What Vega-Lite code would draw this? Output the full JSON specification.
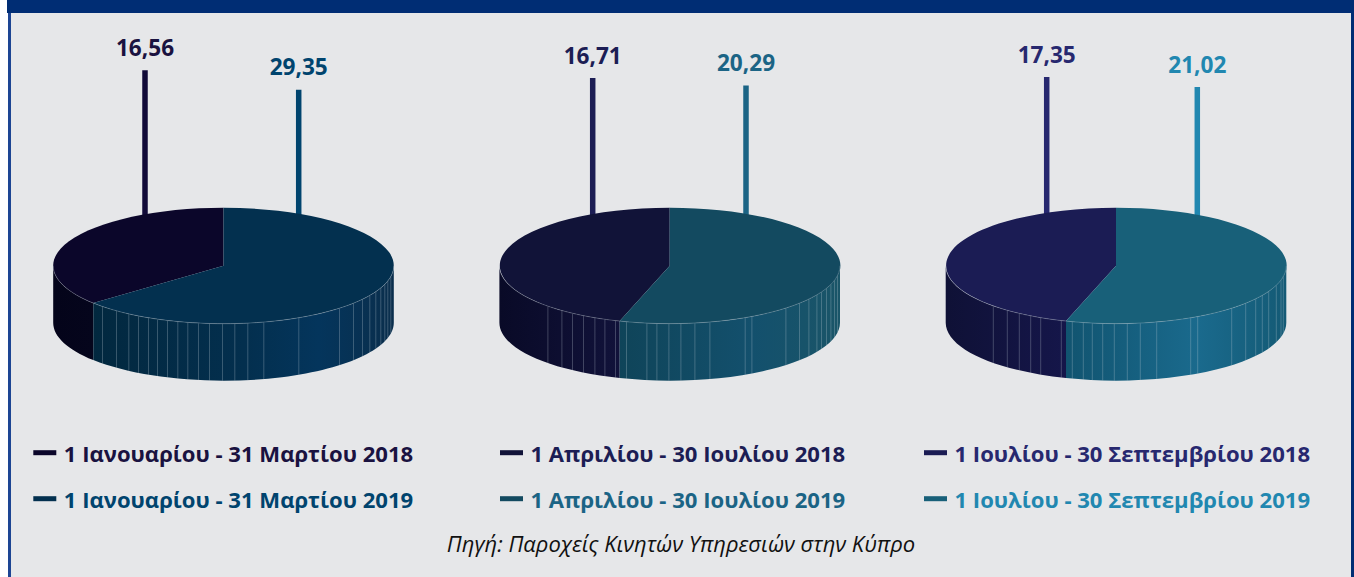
{
"$schema":"https://vega.github.io/schema/vega-lite/v6.json",
"width":1340,"height":564,
"autosize":{"type":"none"},
"padding":{"left":11,"top":13,"right":3,"bottom":0},
"background":"#ffffff",
"view":{"fill":"#E6E7E9","stroke":null},
"config":{"font":"Open Sans"},
"datasets":{"rows":[
{"period":"1 Ιανουαρίου - 31 Μαρτίου 2018","panel":1,"year":2018,"value":16.56,"valueText":"16,56"},
{"period":"1 Ιανουαρίου - 31 Μαρτίου 2019","panel":1,"year":2019,"value":29.35,"valueText":"29,35"},
{"period":"1 Απριλίου - 30 Ιουλίου 2018","panel":2,"year":2018,"value":16.71,"valueText":"16,71"},
{"period":"1 Απριλίου - 30 Ιουλίου 2019","panel":2,"year":2019,"value":20.29,"valueText":"20,29"},
{"period":"1  Ιουλίου - 30 Σεπτεμβρίου 2018","panel":3,"year":2018,"value":17.35,"valueText":"17,35"},
{"period":"1  Ιουλίου - 30 Σεπτεμβρίου 2019","panel":3,"year":2019,"value":21.02,"valueText":"21,02"}
]},
"data":{"name":"rows"},
"resolve":{"scale":{"x":"independent","y":"independent","color":"independent","shape":"independent"}},
"layer":[
{"mark":{"type":"rule","color":"#1D4593","strokeWidth":3},"encoding":{"x":{"value":-1.5}}},
{"mark":{"type":"rule","color":"#002D74","strokeWidth":3},"encoding":{"x":{"value":1341.5}}},
{"mark":{"type":"rule","color":"#002D74","strokeWidth":13},"encoding":{"y":{"value":-6.5},"x":{"value":-4},"x2":{"value":1343}}},
{"mark":{"type":"rule","strokeWidth":5.5},
 "encoding":{
 "x":{"field":"value","type":"quantitative","axis":null,"scale":{"domain":[16.56,16.71,17.35,20.29,21.02,29.35],"range":[134,581.7,1035.7,735,1186.3,287.7],"zero":false,"nice":false}},
 "y":{"field":"value","type":"quantitative","axis":null,"scale":{"domain":[16.56,16.71,17.35,20.29,21.02,29.35],"range":[57.3,65,64,72.5,74,76.7],"zero":false,"nice":false}},
 "y2":{"value":230},
 "color":{"field":"period","type":"nominal","legend":null,"scale":{"domain":["1 Ιανουαρίου - 31 Μαρτίου 2018","1 Ιανουαρίου - 31 Μαρτίου 2019","1 Απριλίου - 30 Ιουλίου 2018","1 Απριλίου - 30 Ιουλίου 2019","1  Ιουλίου - 30 Σεπτεμβρίου 2018","1  Ιουλίου - 30 Σεπτεμβρίου 2019"],"range":["#110A38","#00446E","#1C1D54","#1B6485","#27286F","#2187B0"]}}
 }},
{"transform":[{"filter":"datum.panel==1 && datum.year==2018"}],
 "mark":{"type":"point","filled":true,"opacity":1,"size":4,"yOffset":-29.3,"shape":"M-170.3,0A170.3,58 0 0 0 -130.2,37.4V94.4A170.3,58 0 0 1 -170.3,57Z","fill":{"gradient":"linear","x1":0,"y1":0,"x2":1,"y2":0,"stops":[{"offset":0,"color":"#04041A"},{"offset":1,"color":"#05051C"}]}},
 "encoding":{"x":{"field":"panel","type":"quantitative","axis":null,"scale":{"domain":[1,2,3],"range":[212.5,658.7,1105],"zero":false,"nice":false}}}},
{"transform":[{"filter":"datum.panel==1 && datum.year==2019"}],
 "mark":{"type":"point","filled":true,"opacity":1,"size":4,"yOffset":-29.3,"shape":"M-130.2,37.4A170.3,58 0 0 0 170.3,0V57A170.3,58 0 0 1 -130.2,94.4Z","fill":{"gradient":"linear","x1":0,"y1":0,"x2":1,"y2":0,"stops":[{"offset":0,"color":"#02283F"},{"offset":0.5,"color":"#032F4E"},{"offset":0.75,"color":"#04355C"},{"offset":1,"color":"#0A2E4C"}]}},
 "encoding":{"x":{"field":"panel","type":"quantitative","axis":null,"scale":{"domain":[1,2,3],"range":[212.5,658.7,1105],"zero":false,"nice":false}}}},
{"transform":[{"filter":"datum.panel==2 && datum.year==2018"}],
 "mark":{"type":"point","filled":true,"opacity":1,"size":4,"yOffset":-29.3,"shape":"M-170.3,0A170.3,58 0 0 0 -50,55.4V112.4A170.3,58 0 0 1 -170.3,57Z","fill":{"gradient":"linear","x1":0,"y1":0,"x2":1,"y2":0,"stops":[{"offset":0,"color":"#090A27"},{"offset":1,"color":"#11123A"}]}},
 "encoding":{"x":{"field":"panel","type":"quantitative","axis":null,"scale":{"domain":[1,2,3],"range":[212.5,658.7,1105],"zero":false,"nice":false}}}},
{"transform":[{"filter":"datum.panel==2 && datum.year==2019"}],
 "mark":{"type":"point","filled":true,"opacity":1,"size":4,"yOffset":-29.3,"shape":"M-50,55.4A170.3,58 0 0 0 170.3,0V57A170.3,58 0 0 1 -50,112.4Z","fill":{"gradient":"linear","x1":0,"y1":0,"x2":1,"y2":0,"stops":[{"offset":0,"color":"#0F4459"},{"offset":0.6,"color":"#13506D"},{"offset":1,"color":"#1A5568"}]}},
 "encoding":{"x":{"field":"panel","type":"quantitative","axis":null,"scale":{"domain":[1,2,3],"range":[212.5,658.7,1105],"zero":false,"nice":false}}}},
{"transform":[{"filter":"datum.panel==3 && datum.year==2018"}],
 "mark":{"type":"point","filled":true,"opacity":1,"size":4,"yOffset":-29.3,"shape":"M-170.3,0A170.3,58 0 0 0 -50,55.4V112.4A170.3,58 0 0 1 -170.3,57Z","fill":{"gradient":"linear","x1":0,"y1":0,"x2":1,"y2":0,"stops":[{"offset":0,"color":"#0F1136"},{"offset":1,"color":"#15164A"}]}},
 "encoding":{"x":{"field":"panel","type":"quantitative","axis":null,"scale":{"domain":[1,2,3],"range":[212.5,658.7,1105],"zero":false,"nice":false}}}},
{"transform":[{"filter":"datum.panel==3 && datum.year==2019"}],
 "mark":{"type":"point","filled":true,"opacity":1,"size":4,"yOffset":-29.3,"shape":"M-50,55.4A170.3,58 0 0 0 170.3,0V57A170.3,58 0 0 1 -50,112.4Z","fill":{"gradient":"linear","x1":0,"y1":0,"x2":1,"y2":0,"stops":[{"offset":0,"color":"#115470"},{"offset":0.6,"color":"#1A6A8D"},{"offset":1,"color":"#145A75"}]}},
 "encoding":{"x":{"field":"panel","type":"quantitative","axis":null,"scale":{"domain":[1,2,3],"range":[212.5,658.7,1105],"zero":false,"nice":false}}}},
{"mark":{"type":"point","filled":true,"opacity":1,"size":4,"yOffset":-29.3},
 "encoding":{
 "x":{"field":"panel","type":"quantitative","axis":null,"scale":{"domain":[1,2,3],"range":[212.5,658.7,1105],"zero":false,"nice":false}},
 "shape":{"field":"period","type":"nominal","legend":null,"scale":{"domain":["1 Ιανουαρίου - 31 Μαρτίου 2018","1 Ιανουαρίου - 31 Μαρτίου 2019","1 Απριλίου - 30 Ιουλίου 2018","1 Απριλίου - 30 Ιουλίου 2019","1  Ιουλίου - 30 Σεπτεμβρίου 2018","1  Ιουλίου - 30 Σεπτεμβρίου 2019"],
 "range":["M0,0L0,-58A170.3,58 0 0 0 -130.2,37.4Z","M0,0L0,-58A170.3,58 0 1 1 -130.2,37.4Z","M0,0L0,-58A170.3,58 0 0 0 -50,55.4Z","M0,0L0,-58A170.3,58 0 1 1 -50,55.4Z","M0,0L0,-58A170.3,58 0 0 0 -50,55.4Z","M0,0L0,-58A170.3,58 0 1 1 -50,55.4Z"]}},
 "fill":{"field":"period","type":"nominal","legend":null,"scale":{"domain":["1 Ιανουαρίου - 31 Μαρτίου 2018","1 Ιανουαρίου - 31 Μαρτίου 2019","1 Απριλίου - 30 Ιουλίου 2018","1 Απριλίου - 30 Ιουλίου 2019","1  Ιουλίου - 30 Σεπτεμβρίου 2018","1  Ιουλίου - 30 Σεπτεμβρίου 2019"],"range":["#0B062A","#03304F","#111338","#134A60","#1B1C54","#186079"]}}
 }},
{"mark":{"type":"point","filled":false,"opacity":0.3,"stroke":"#C8D4DC","strokeWidth":0.9,"size":4,"yOffset":-29.3},
 "encoding":{
 "x":{"field":"panel","type":"quantitative","axis":null,"scale":{"domain":[1,2,3],"range":[212.5,658.7,1105],"zero":false,"nice":false}},
 "shape":{"field":"period","type":"nominal","legend":null,"scale":{"domain":["1 Ιανουαρίου - 31 Μαρτίου 2018","1 Ιανουαρίου - 31 Μαρτίου 2019","1 Απριλίου - 30 Ιουλίου 2018","1 Απριλίου - 30 Ιουλίου 2019","1  Ιουλίου - 30 Σεπτεμβρίου 2018","1  Ιουλίου - 30 Σεπτεμβρίου 2019"],
 "range":[
 "M-170.3,0A170.3,58 0 0 0 -130.2,37.4",
 "M-130.2,37.4A170.3,58 0 0 0 170.3,0M-121,40.8V97.8M-107,45.1V102.1M-94.7,48.2V105.2M-85,50.3V107.3M-75,52.1V109.1M-66,53.5V110.5M-56,54.8V111.8M-45.7,55.9V112.9M-35.7,56.7V113.7M-25,57.4V114.4M-14,57.8V114.8M-1,58V115M11.3,57.9V114.9M24.3,57.4V114.4M40.3,56.4V113.4M75.3,52V109M116,42.5V99.5M130,37.5V94.5M139,33.5V90.5M146.3,29.7V86.7M152.3,25.9V82.9M157.3,22.2V79.2M161.3,18.6V75.6M164.3,15.2V72.2M167.3,10.8V67.8",
 "M-170.3,0A170.3,58 0 0 0 -50,55.4M-121.8,40.5V97.5M-107.8,44.9V101.9M-97.2,47.6V104.6M-86.2,50V107M-74.8,52.1V109.1M-64.8,53.6V110.6M-54.2,55V112",
 "M-50,55.4A170.3,58 0 0 0 170.3,0M-43.2,56.1V113.1M-22.8,57.5V114.5M-12.8,57.8V114.8M-0.8,58V115M11.2,57.9V114.9M25.2,57.4V114.4M40.2,56.4V113.4M75.5,52V109M82.2,50.8V107.8M116.2,42.4V99.4M129.8,37.5V94.5M139.2,33.4V90.4M147.2,29.2V86.2M151.8,26.3V83.3M156.8,22.6V79.6M161.2,18.7V75.7M164.8,14.6V71.6M167.8,9.9V66.9",
 "M-170.3,0A170.3,58 0 0 0 -50,55.4M-122.7,40.2V97.2M-108.7,44.7V101.7M-96.7,47.7V104.7M-85.3,50.2V107.2M-75.3,52V109M-54.7,54.9V111.9",
 "M-50,55.4A170.3,58 0 0 0 170.3,0M-43.7,56.1V113.1M-32.7,56.9V113.9M-23.7,57.4V114.4M-13.3,57.8V114.8M-1.7,58V115M11.3,57.9V114.9M24.3,57.4V114.4M40.7,56.3V113.3M74.7,52.1V109.1M81.7,50.9V107.9M115.7,42.6V99.6M129.7,37.6V94.6M139.7,33.2V90.2M146.3,29.7V86.7M152.7,25.7V82.7M160.3,19.6V76.6M165,14.4V71.4M167.3,10.8V67.8"
 ]}}
 }},
{"mark":{"type":"text","font":"Open Sans","fontWeight":"bold","fontSize":22.6,"align":"center","baseline":"alphabetic","dy":-14.5},
 "encoding":{
 "x":{"field":"value","type":"quantitative","axis":null,"scale":{"domain":[16.56,16.71,17.35,20.29,21.02,29.35],"range":[134,581.7,1035.7,735,1186.3,287.7],"zero":false,"nice":false}},
 "y":{"field":"value","type":"quantitative","axis":null,"scale":{"domain":[16.56,16.71,17.35,20.29,21.02,29.35],"range":[57.3,65,64,72.5,74,76.7],"zero":false,"nice":false}},
 "text":{"field":"valueText"},
 "color":{"field":"period","type":"nominal","legend":null,"scale":{"domain":["1 Ιανουαρίου - 31 Μαρτίου 2018","1 Ιανουαρίου - 31 Μαρτίου 2019","1 Απριλίου - 30 Ιουλίου 2018","1 Απριλίου - 30 Ιουλίου 2019","1  Ιουλίου - 30 Σεπτεμβρίου 2018","1  Ιουλίου - 30 Σεπτεμβρίου 2019"],"range":["#1A1240","#00446E","#1C1D54","#1B6485","#27286F","#2187B0"]}}
 }},
{"mark":{"type":"point","filled":true,"opacity":1,"size":4,"shape":"M0,-2.5H23V2.5H0Z"},
 "encoding":{
 "x":{"field":"panel","type":"quantitative","axis":null,"scale":{"domain":[1,2,3],"range":[22.3,489,913],"zero":false,"nice":false}},
 "y":{"field":"year","type":"quantitative","axis":null,"scale":{"domain":[2018,2019],"range":[439.7,485.7],"zero":false,"nice":false}},
 "fill":{"field":"period","type":"nominal","legend":null,"scale":{"domain":["1 Ιανουαρίου - 31 Μαρτίου 2018","1 Ιανουαρίου - 31 Μαρτίου 2019","1 Απριλίου - 30 Ιουλίου 2018","1 Απριλίου - 30 Ιουλίου 2019","1  Ιουλίου - 30 Σεπτεμβρίου 2018","1  Ιουλίου - 30 Σεπτεμβρίου 2019"],"range":["#110A38","#00446E","#1C1D54","#1B6485","#27286F","#2187B0"]}}
 }},
{"mark":{"type":"text","font":"Open Sans","fontWeight":"bold","fontSize":22.1,"align":"left","baseline":"alphabetic","dx":30.5,"dy":8.8},
 "encoding":{
 "x":{"field":"panel","type":"quantitative","axis":null,"scale":{"domain":[1,2,3],"range":[22.3,489,913],"zero":false,"nice":false}},
 "y":{"field":"year","type":"quantitative","axis":null,"scale":{"domain":[2018,2019],"range":[439.7,485.7],"zero":false,"nice":false}},
 "text":{"field":"period"},
 "color":{"field":"period","type":"nominal","legend":null,"scale":{"domain":["1 Ιανουαρίου - 31 Μαρτίου 2018","1 Ιανουαρίου - 31 Μαρτίου 2019","1 Απριλίου - 30 Ιουλίου 2018","1 Απριλίου - 30 Ιουλίου 2019","1  Ιουλίου - 30 Σεπτεμβρίου 2018","1  Ιουλίου - 30 Σεπτεμβρίου 2019"],"range":["#1A1240","#00446E","#1C1D54","#1B6485","#27286F","#2187B0"]}}
 }},
{"data":{"values":[{"source":"Πηγή: Παροχείς Κινητών Υπηρεσιών στην Κύπρο"}]},
 "mark":{"type":"text","font":"Open Sans","fontStyle":"italic","fontSize":22,"color":"#111111","align":"center","baseline":"alphabetic","dy":257},
 "encoding":{"text":{"field":"source"}}}
]
}
